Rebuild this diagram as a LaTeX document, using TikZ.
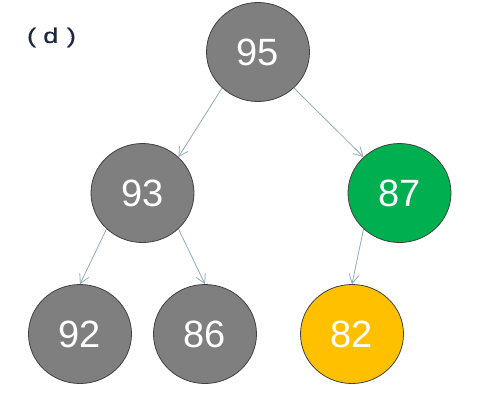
\documentclass[tikz,border=0pt]{standalone}
\usepackage{fontspec}
\setmainfont{Liberation Sans}
\newfontface\lblfont{Liberation Sans}[FakeBold=0.35]
\usetikzlibrary{shapes.geometric,arrows.meta}
\definecolor{nodegray}{HTML}{7F7F7F}
\definecolor{nodegreen}{HTML}{00B050}
\definecolor{nodeyellow}{HTML}{FFC000}
\definecolor{edgeline}{HTML}{8FAAB9}
\definecolor{labelnavy}{HTML}{1B2642}
\definecolor{rimdark}{HTML}{404040}
\begin{document}
\begin{tikzpicture}[x=1pt,y=-1pt,
  heapnode/.style={ellipse,draw=rimdark,line width=0.8pt,minimum width=103pt,minimum height=99pt,inner sep=0pt,
    text=white,font=\fontsize{38}{40}\selectfont},
  grayn/.style={heapnode,fill=nodegray},
  greenn/.style={heapnode,fill=nodegreen},
  yellown/.style={heapnode,fill=nodeyellow},
  edge/.style={draw=edgeline,line width=0.8pt,-{Straight Barb[length=9pt,width=10pt,line width=0.8pt]}}]
\useasboundingbox (0,0) rectangle (487,400);
\node[text=labelnavy,font=\lblfont\fontsize{21}{23}\selectfont,inner sep=0pt] (lbl) at (51.5,37.5)
  {\scalebox{1.3}[1]{(\hspace{5.5pt}d\hspace{6.5pt})}};
\node[grayn] (n95) at (258,52) {95};
\node[grayn] (n93) at (142.5,193) {93};
\node[greenn] (n87) at (399.5,193) {87};
\node[grayn] (n92) at (80,334) {92};
\node[grayn] (n86) at (205,334) {86};
\node[yellown] (n82) at (352,334) {82};
\draw[edge] (n95.225) -- (n93.45);
\draw[edge] (n95.-45) -- (n87.135);
\draw[edge] (n93.225) -- (n92.90);
\draw[edge] (n93.-45) -- (n86.90);
\draw[edge] (n87.225) -- (n82.90);
\end{tikzpicture}
\end{document}
